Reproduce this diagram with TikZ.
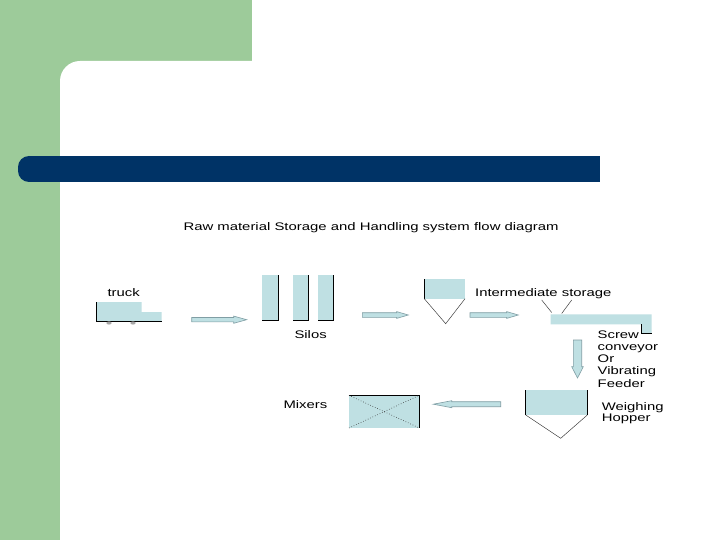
\documentclass[tikz,border=0pt]{standalone}
\usepackage{fontspec}
\setmainfont{Liberation Sans}
\definecolor{bggreen}{RGB}{157,203,154}
\definecolor{barblue}{RGB}{0,51,102}
\definecolor{pale}{RGB}{191,224,227}
\definecolor{arrowedge}{RGB}{128,158,164}
\newcommand{\wide}[1]{\scalebox{1.35}[1]{#1}}
% right-pointing block arrow: tail x, tip x, centre y, half shaft, half head, head length
\newcommand{\arrowR}[6]{\draw[barrowst] (#1,{#3-#4}) -- ({#2-#6},{#3-#4}) -- ({#2-#6},{#3-#5}) -- (#2,#3) -- ({#2-#6},{#3+#5}) -- ({#2-#6},{#3+#4}) -- (#1,{#3+#4}) -- cycle;}
% left-pointing block arrow: tail x, tip x, centre y, half shaft, half head, head length
\newcommand{\arrowL}[6]{\draw[barrowst] (#1,{#3-#4}) -- ({#2+#6},{#3-#4}) -- ({#2+#6},{#3-#5}) -- (#2,#3) -- ({#2+#6},{#3+#5}) -- ({#2+#6},{#3+#4}) -- (#1,{#3+#4}) -- cycle;}
% down-pointing block arrow: tail y, tip y, centre x, half shaft, half head, head length
\newcommand{\arrowD}[6]{\draw[barrowst] ({#3-#4},#1) -- ({#3-#4},{#2-#6}) -- ({#3-#5},{#2-#6}) -- (#3,#2) -- ({#3+#5},{#2-#6}) -- ({#3+#4},{#2-#6}) -- ({#3+#4},#1) -- cycle;}
\begin{document}
\begin{tikzpicture}[x=1pt,y=-1pt,
  lbl/.style={font=\fontsize{11}{13}\selectfont, inner sep=0pt, text=black},
  box/.style={fill=pale, draw=none, inner sep=0pt, outer sep=0pt, anchor=north west},
  edgeline/.style={black, line width=0.9pt},
  funnel/.style={draw=black!75, line width=0.5pt},
  barrowst/.style={fill=pale, draw=arrowedge, line width=0.6pt, line join=miter},
  mixdiag/.style={draw=black!80, line width=0.6pt, dotted}]
\useasboundingbox (0,0) rectangle (720,540);
\fill[white] (0,0) rectangle (720,540);
% background decoration
\fill[bggreen] (0,0) rectangle (252,81);
\fill[bggreen] (0,0) rectangle (60,540);
\fill[white, rounded corners=20pt] (60,61) rectangle (760,580);
\fill[barblue, rounded corners=11pt] (18,156) rectangle (40,182);
\fill[barblue] (30,156) rectangle (600,182);

% title
\node[lbl, anchor=base west] (title) at (183.3,230) {\resizebox{375pt}{\height}{Raw material Storage and Handling system flow diagram}};

% truck
\fill[pale] (96,302) -- (141.7,302) -- (141.7,312) -- (161.7,312) -- (161.7,321.7) -- (96,321.7) -- cycle;
\draw[edgeline] (96,302) -- (96,321.7) -- (161.7,321.7);
\fill[gray!70] (109,323) ellipse [x radius=2.6pt, y radius=1.6pt];
\fill[gray!70] (133,323) ellipse [x radius=2.6pt, y radius=1.6pt];
\node[lbl, anchor=base west] (truckL) at (107.3,296) {\wide{truck}};

\arrowR{191.7}{246.7}{319.7}{2.2}{3.6}{13}

% silos
\node[box, minimum width=16pt, minimum height=45.4pt] (silo1) at (262.3,275.3) {};
\node[box, minimum width=15pt, minimum height=45.4pt] (silo2) at (293.3,275.3) {};
\node[box, minimum width=15pt, minimum height=45.4pt] (silo3) at (318.3,275.3) {};
\foreach \s in {silo1,silo2,silo3}
  \draw[edgeline] (\s.north east) -- (\s.south east) -- (\s.south west);
\node[lbl, anchor=base west] (silosL) at (294.3,338.5) {\wide{Silos}};

\arrowR{362.3}{408.3}{315}{2.3}{3.4}{11.6}

% intermediate storage hopper
\node[box, minimum width=40.7pt, minimum height=19.4pt] (hop1) at (424.3,279.3) {};
\draw[edgeline] (hop1.north west) -- (hop1.south west);
\coordinate (hop1tip) at (445.7,323.7);
\draw[funnel] (hop1.south west) -- (hop1tip) -- (hop1.south east);
\node[lbl, anchor=base west] (interL) at (475,296.5) {\wide{Intermediate storage}};

\arrowR{470}{518.3}{315}{2.3}{3.4}{11.6}

% screw conveyor
\draw[funnel] (541.7,300) -- (551.7,312.5);
\draw[funnel] (571.7,300) -- (561.7,313.5);
\fill[pale] (550.7,314.3) -- (651.7,314.3) -- (651.7,333.3) -- (641.7,333.3) -- (641.7,324.3) -- (550.7,324.3) -- cycle;
\draw[edgeline] (641.7,324.3) -- (641.7,333.3) -- (651.7,333.3);
\node[lbl, anchor=north west, font=\fontsize{11}{12.2}\selectfont] (screwL) at (597.5,329.5)
  {\wide{\begin{tabular}{@{}l@{}}Screw\\conveyor\\Or\\Vibrating\\Feeder\end{tabular}}};

\arrowD{340}{378}{577.5}{4.2}{5.8}{11.3}

% weighing hopper
\node[box, minimum width=61.6pt, minimum height=25pt] (hop2) at (525.7,390) {};
\draw[edgeline] (hop2.north west) -- (hop2.south west);
\draw[edgeline] (hop2.north east) -- (hop2.south east);
\coordinate (hop2tip) at (560.7,438.3);
\draw[funnel] (hop2.south west) -- (hop2tip) -- (hop2.south east);
\node[lbl, anchor=north west, font=\fontsize{11}{11}\selectfont] (weighL) at (601.7,402.3)
  {\wide{\begin{tabular}{@{}l@{}}Weighing\\Hopper\end{tabular}}};

\arrowL{500.7}{433.3}{404.2}{2.5}{3.5}{18.4}

% mixer
\node[box, minimum width=70.3pt, minimum height=32.7pt] (mixer) at (349,395.3) {};
\draw[edgeline] (mixer.north west) -- (mixer.north east) -- (mixer.south east);
\draw[mixdiag] (mixer.north west) -- (mixer.south east);
\draw[mixdiag] (mixer.south west) -- (mixer.north east);
\node[lbl, anchor=base west] (mixL) at (283.3,408) {\wide{Mixers}};
\end{tikzpicture}
\end{document}
